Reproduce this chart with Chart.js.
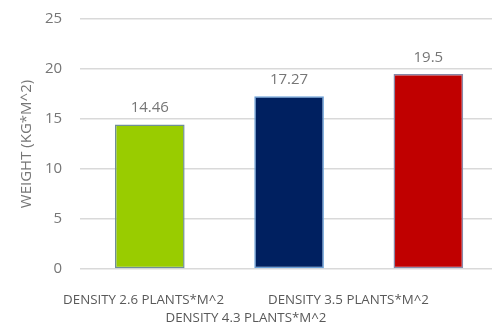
<!DOCTYPE html>
<html>
  <head>
    <title>Weight by Density</title>
    <script src="https://cdn.jsdelivr.net/npm/chart.js"></script>
    <style>
      body { margin: 0; background: #fff; }
      #wrap { position: relative; width: 492px; height: 323px; overflow: hidden; }
      /* canvas is a bit wider/taller than the page so the plot runs to the right edge */
      #box { position: absolute; left: 0; top: -8px; width: 498px; height: 331px; }
      #legend {
        position: absolute; left: 0; top: 290px; width: 492px;
        display: flex; flex-wrap: wrap; justify-content: center;
        column-gap: 44px; row-gap: 0px; padding: 0 50px; box-sizing: border-box;
        font-family: "Open Sans", sans-serif; font-size: 13.3px; line-height: 18px; color: #595959;
      }
    </style>
  </head>
  <body>
    <div id="wrap">
      <div id="box"><canvas id="weightChart"></canvas></div>
      <div id="legend"></div>
    </div>

    <script>
      const categories = [
        "DENSITY 2.6 PLANTS*M^2",
        "DENSITY 3.5 PLANTS*M^2",
        "DENSITY 4.3 PLANTS*M^2",
      ];
      const weights = [14.46, 17.27, 19.5];
      const valueLabels = ["14.46", "17.27", "19.5"];
      const yTicks = [0, 5, 10, 15, 20, 25];

      const barColors = ["#99cc00", "#002060", "#c00000"];
      const barBorders = ["#6f8f98", "#6aa0d8", "#8888a8"];
      const textGray = "#767676";

      // simple value labels above the bars
      const valueLabelPlugin = {
        id: "valueLabels",
        afterDatasetsDraw(chart) {
          const ctx = chart.ctx;
          const meta = chart.getDatasetMeta(0);
          ctx.save();
          ctx.font = '15px "Open Sans", sans-serif';
          ctx.fillStyle = textGray;
          ctx.textAlign = "center";
          ctx.textBaseline = "bottom";
          meta.data.forEach((bar, i) => {
            ctx.fillText(valueLabels[i], bar.x, bar.y - 9);
          });
          ctx.restore();
        },
      };

      const ctx = document.getElementById("weightChart").getContext("2d");
      new Chart(ctx, {
        type: "bar",
        data: {
          labels: categories,
          datasets: [
            {
              label: "Weight",
              data: weights,
              backgroundColor: barColors,
              borderColor: barBorders,
              borderWidth: 1.5,
              borderSkipped: false,
              barPercentage: 0.5,
              categoryPercentage: 1,
            },
          ],
        },
        options: {
          responsive: true,
          maintainAspectRatio: false,
          animation: false,
          layout: { padding: { left: 10, right: 0, top: 0, bottom: 46 } },
          plugins: {
            legend: { display: false },
            tooltip: { enabled: false },
          },
          scales: {
            x: {
              ticks: { display: false },
              grid: { display: false },
              border: { display: false },
            },
            y: {
              min: 0,
              max: 25,
              afterBuildTicks: (axis) => {
                axis.ticks = yTicks.map((v) => ({ value: v }));
              },
              ticks: {
                padding: 18,
                color: textGray,
                font: { family: "Open Sans", size: 15 },
              },
              grid: { color: "#d9d9d9", lineWidth: 1.5, drawTicks: false },
              border: { display: false },
              title: {
                display: true,
                text: "WEIGHT (KG*M^2)",
                color: textGray,
                font: { family: "Open Sans", size: 15 },
                padding: { top: 8, bottom: -9 },
              },
            },
          },
        },
        plugins: [valueLabelPlugin],
      });

      // legend text under the plot, no swatches
      const legend = document.getElementById("legend");
      categories.forEach((c) => {
        const span = document.createElement("span");
        span.textContent = c;
        legend.appendChild(span);
      });
    </script>
  </body>
</html>
